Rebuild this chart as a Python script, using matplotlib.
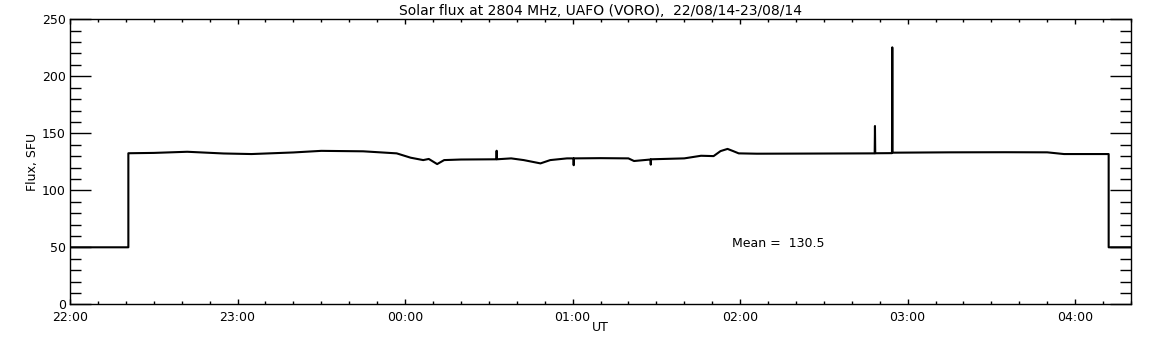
import matplotlib
matplotlib.use('Agg')
import matplotlib.pyplot as plt
from matplotlib.ticker import MultipleLocator

# Time in minutes after 22:00 UT, flux in SFU
minutes = [0, 20.9, 20.9, 30, 42, 55, 65, 80, 90, 105, 117, 122, 126.5, 128.5,
           131.5, 134, 140, 152.7, 152.8, 152.9, 158, 162.5, 168.5, 172, 178,
           180.3, 180.4, 180.5, 190, 200, 202, 207.9, 208, 208.1, 220, 226,
           230.5, 233, 235.5, 237.5, 239.5, 246, 262, 275, 288.2, 288.3, 288.4,
           294.4, 294.5, 294.6, 315, 335, 350, 356, 372, 372, 380]
flux = [50, 50, 132.5, 132.8, 133.8, 132.3, 131.8, 133.2, 134.6, 134.2, 132.4,
        128.6, 126.5, 127.5, 123, 126.5, 127, 127.2, 134.7, 127.2, 128, 126.5,
        123.6, 126.5, 128, 128, 122, 128, 128.2, 128, 125.7, 127, 122.5,
        127.2, 128, 130.3, 130, 134.4, 136.3, 134.4, 132.4, 132.1, 132.2,
        132.3, 132.4, 156.4, 132.5, 132.6, 225.4, 133, 133.3, 133.4, 133.3,
        131.8, 131.8, 50, 50]

tick_labels = ['22:00', '23:00', '00:00', '01:00', '02:00', '03:00', '04:00']
title = 'Solar flux at 2804 MHz, UAFO (VORO),  22/08/14-23/08/14'
mean_text = 'Mean =  130.5'

fig = plt.figure(figsize=(11.52, 3.45), dpi=100)
ax = fig.add_axes([70 / 1152, 40.7 / 345, 1061 / 1152, 285 / 345])

ax.plot(minutes, flux, color='black', linewidth=1.5)

ax.set_xlim(0, 380)
ax.set_ylim(0, 250)
ax.set_xticks([60 * i for i in range(len(tick_labels))])
ax.set_xticklabels(tick_labels)
ax.xaxis.set_minor_locator(MultipleLocator(10))
ax.yaxis.set_major_locator(MultipleLocator(50))
ax.yaxis.set_minor_locator(MultipleLocator(10))

ax.tick_params(axis='both', which='both', direction='in', color='black',
               width=1.0, labelsize=9, top=True, right=True)
ax.tick_params(axis='y', which='major', length=14.9, pad=3)
ax.tick_params(axis='y', which='minor', length=7.9)
ax.tick_params(axis='x', which='major', length=3.8, pad=5)
ax.tick_params(axis='x', which='minor', length=1.9)
for s in ax.spines.values():
    s.set_linewidth(1.0)

ax.text(237, 52.9, mean_text, fontsize=9, va='center', ha='left')
ax.set_title(title, fontsize=10, pad=3)
ax.set_xlabel('UT', fontsize=9, labelpad=-2)
ax.set_ylabel('Flux, SFU', fontsize=9, labelpad=2)

fig.savefig('out.png', dpi=100)
